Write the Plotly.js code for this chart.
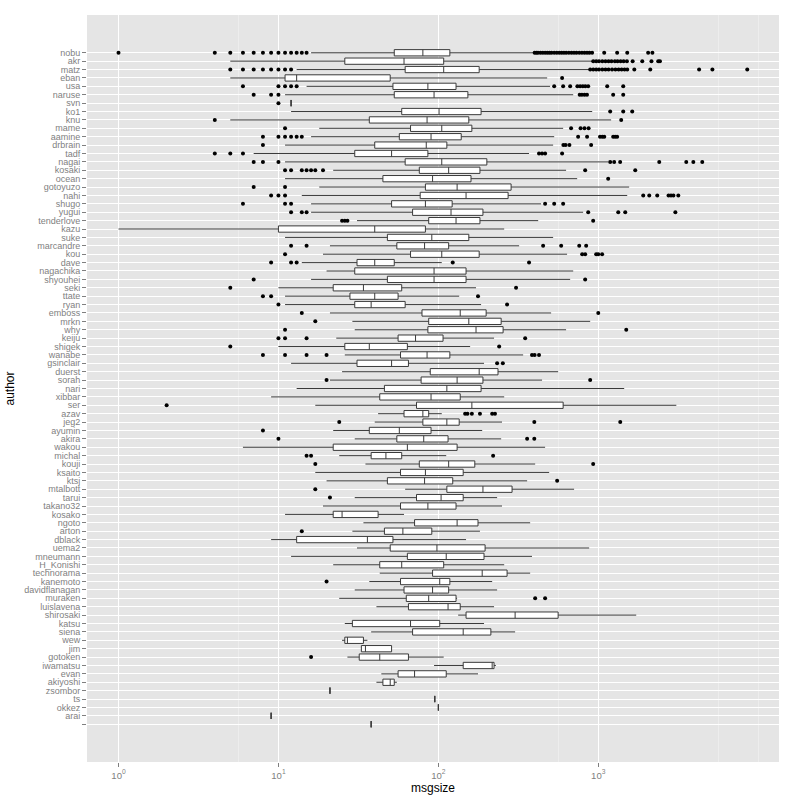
<!DOCTYPE html>
<html>
<head>
<meta charset="utf-8">
<script src="https://cdn.plot.ly/plotly-3.0.1.min.js"></script>
<style>html,body{margin:0;padding:0;background:#fff;}#chart{width:800px;height:800px;}</style>
</head>
<body>
<div id="chart"></div>
<script>
const authors = ["nobu","akr","matz","eban","usa","naruse","svn","ko1","knu","mame","aamine","drbrain","tadf","nagai","kosaki","ocean","gotoyuzo","nahi","shugo","yugui","tenderlove","kazu","suke","marcandre","kou","dave","nagachika","shyouhei","seki","ttate","ryan","emboss","mrkn","why","keiju","shigek","wanabe","gsinclair","duerst","sorah","nari","xibbar","ser","azav","jeg2","ayumin","akira","wakou","michal","kouji","ksaito","ktsj","mtalbott","tarui","takano32","kosako","ngoto","arton","dblack","uema2","mneumann","H_Konishi","technorama","kanemoto","davidflanagan","muraken","luislavena","shirosaki","katsu","siena","wew","jim","gotoken","iwamatsu","evan","akiyoshi","zsombor","ts","okkez","arai",""];

const lowWhisker = [16,5,13,5,15,11,12,12,5,18,16,11,7,11,22,11,18,14,16,16,31,1,11,21,19,14,20,16,10,11,11,21,29,30,23,10,26,12,25,21,13,9,17,42,40,22,30,6,24,35,17,20,62,30,19,11,34,29,9,31,12,22,43,37,30,24,41,133,26,38,25,33,27,94,44,41,21,95,100,9,38];
const q1 = [53,26,62,11,52,53,12,59,37,67,57,40,30,62,76,45,83,77,51,69,87,10,48,55,67,31,30,48,22,28,30,79,87,86,56,26,58,31,89,78,46,43,73,61,80,37,55,22,38,76,58,48,113,73,58,22,71,46,13,50,64,43,92,58,61,63,65,149,29,69,26,33,32,143,56,45,21,95,100,9,38];
const median = [80,61,108,13,86,94,12,101,85,105,90,84,51,105,116,92,131,149,83,120,129,40,91,82,105,40,94,94,34,40,38,137,155,172,72,37,85,51,180,131,113,90,162,80,113,57,81,64,47,116,83,82,190,104,86,25,131,60,36,98,112,59,188,102,92,87,115,302,67,143,27,35,43,217,71,50,21,95,100,9,38];
const q3 = [118,108,180,50,129,153,12,185,155,162,139,113,86,201,182,160,285,273,122,190,182,83,155,116,180,53,149,149,59,56,62,199,247,254,107,64,118,65,236,190,185,137,603,87,135,90,115,131,59,169,143,123,289,143,129,42,177,91,52,196,193,108,269,118,116,129,137,561,102,213,34,51,65,223,112,53,21,95,100,9,38];
const highWhisker = [391,915,877,479,500,697,12,916,1203,603,530,522,369,1153,629,738,1560,1517,439,804,421,258,522,320,638,105,697,667,172,135,185,507,890,629,223,158,339,193,561,445,1452,258,3076,105,250,188,247,465,112,403,493,359,706,233,250,61,375,182,149,877,385,258,375,217,233,131,223,1727,193,302,36,51,108,229,177,55,21,95,100,9,38];

const outliers = [
 [1,4,5,6,7,8,9,10,11,12,13,14,15,400,410,420,435,450,465,480,495,510,530,550,570,590,610,630,655,680,705,730,760,790,820,850,880,915,1089,1312,1517,2050,2180],
 [930,970,1010,1060,1110,1160,1210,1270,1320,1380,1440,1510,1640,1884,2150,2370,2430],
 [5,6,7,8,9,10,11,12,890,930,970,1010,1060,1110,1160,1220,1280,1340,1400,1460,1517,1680,2114,4270,5170,8540],
 [594],
 [6,10,11,12,13,530,603,667,740,770,800,830,865,1137,1432],
 [7,9,10,765,790,820,850,1239,1432],
 [10],
 [1187,1432,1630],
 [4,1391],
 [11,676,775,820,870],
 [8,10,11,12,13,14,748,851,1025,1060,1090,1239,1275,1312],
 [8,605,625,660,902],
 [4,5,6,426,445,465,594],
 [7,8,10,1187,1257,1370,2405,3550,3930,4470],
 [11,12,14,15,16,17,19,828,1703],
 [1153],
 [7,11],
 [9,10,11,1910,2083,2337,2750,2850,2950,3165],
 [6,11,12,465,530,603],
 [12,14,15,865,1333,1474,3033],
 [25,26,27,929],
 [],
 [],
 [12,15,452,586,760,840],
 [11,793,828,970,1000,1057],
 [9,12,13,123,369],
 [],
 [7,828],
 [5,306],
 [8,9,177],
 [10,269],
 [14,1000],
 [17],
 [11,1496],
 [10,11,15,349],
 [5,240],
 [8,11,15,20,385,400,426],
 [233,253],
 [],
 [20,890],
 [],
 [],
 [2],
 [147,152,162,182,217,226],
 [24,398,1372],
 [8],
 [10,359,398],
 [],
 [15,16,220],
 [17,929],
 [],
 [553],
 [17],
 [21],
 [],[],[],
 [14],
 [],[],[],[],[],
 [20],
 [],
 [403,465],
 [],[],[],[],[],[],
 [16],
 [],[],[],[],[],[],[],[],[]
];

const xTickVals = [1,10,100,1000];
const xTickText = ["10<sup>0</sup>","10<sup>1</sup>","10<sup>2</sup>","10<sup>3</sup>"];
const xMinorVals = [5.623,562.3,5623,10000];

const pos = authors.map((a,i)=>i);
const ox = [], oy = [];
outliers.forEach((arr,i)=>arr.forEach(v=>{ox.push(v);oy.push(i);}));

const boxTrace = {
  type:'box', orientation:'h', y:pos,
  q1:q1, median:median, q3:q3, lowerfence:lowWhisker, upperfence:highWhisker,
  width:0.75, whiskerwidth:0, boxpoints:false,
  fillcolor:'white', line:{color:'#3a3a3a', width:1}, hoverinfo:'skip'
};
const outTrace = {
  type:'scatter', mode:'markers', x:ox, y:oy,
  marker:{color:'black', size:4}, hoverinfo:'skip'
};

const layout = {
  width:800, height:800,
  paper_bgcolor:'white', plot_bgcolor:'#E5E5E5',
  margin:{l:87, r:21, t:15, b:38},
  showlegend:false,
  font:{family:'Liberation Sans, Arial, sans-serif', color:'#000'},
  xaxis:{
    type:'log', range:[-0.197,4.13],
    tickmode:'array', tickvals:xTickVals, ticktext:xTickText,
    ticks:'outside', ticklen:4, tickcolor:'#7f7f7f',
    tickfont:{size:9.6, color:'#7f7f7f'},
    showgrid:true, gridcolor:'#FFFFFF', gridwidth:1,
    minor:{tickvals:xMinorVals, showgrid:true, gridcolor:'#F2F2F2', gridwidth:0.6, ticks:''},
    zeroline:false, showline:false,
    title:{text:'msgsize', font:{size:12, color:'#000'}, standoff:4}
  },
  yaxis:{
    range:[84.5,-4.5],
    tickmode:'array', tickvals:pos, ticktext:authors,
    ticks:'outside', ticklen:4, tickcolor:'#7f7f7f',
    tickfont:{size:9, color:'#7f7f7f'},
    showgrid:true, gridcolor:'#FFFFFF', gridwidth:1,
    zeroline:false, showline:false,
    title:{text:'author', font:{size:12, color:'#000'}, standoff:6}
  }
};

Plotly.newPlot('chart',[boxTrace,outTrace],layout,{displayModeBar:false, staticPlot:true});
</script>
</body>
</html>
